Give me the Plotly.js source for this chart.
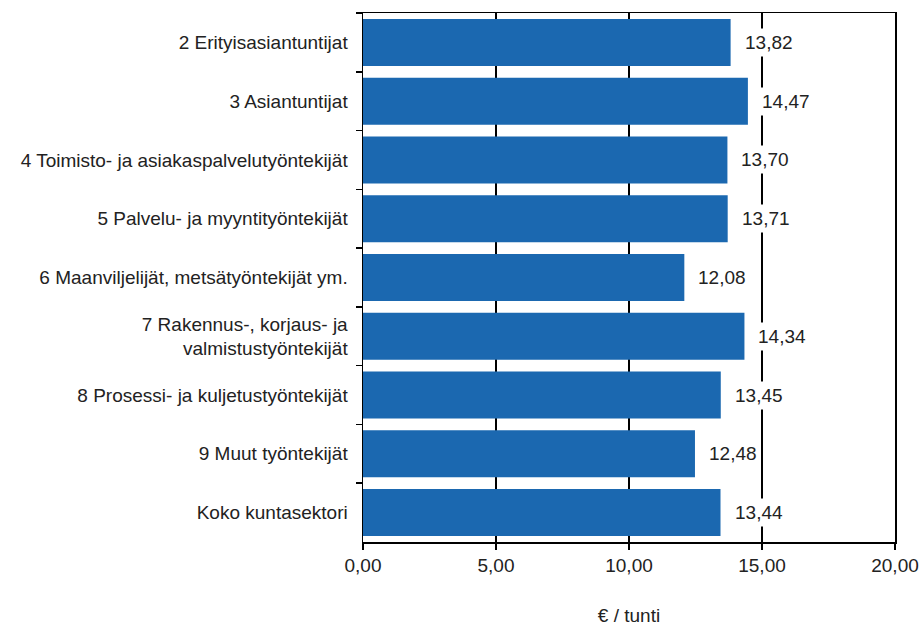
<!DOCTYPE html>
<html>
<head>
<meta charset="utf-8">
<script src="https://cdn.plot.ly/plotly-3.0.1.min.js"></script>
<style>html,body{margin:0;padding:0;background:#fff}#chart{width:921px;height:626px}</style>
</head>
<body>
<div id="chart"></div>
<script>
const categories = [
  "2 Erityisasiantuntijat",
  "3 Asiantuntijat",
  "4 Toimisto- ja asiakaspalvelutyöntekijät",
  "5 Palvelu- ja myyntityöntekijät",
  "6 Maanviljelijät, metsätyöntekijät ym.",
  "7 Rakennus-, korjaus- ja<br>valmistustyöntekijät",
  "8 Prosessi- ja kuljetustyöntekijät",
  "9 Muut työntekijät",
  "Koko kuntasektori"
];
const values = [13.82, 14.47, 13.70, 13.71, 12.08, 14.34, 13.45, 12.48, 13.44];
const xTickVals = [0, 5, 10, 15, 20];
const xTickText = ["0,00", "5,00", "10,00", "15,00", "20,00"];
const xTitle = "€ / tunti";

const fontFamily = '"Liberation Sans", Arial, sans-serif';
const textColor = "#222";

const fmt = v => v.toFixed(2).replace(".", ",");

const annotations = values.map((v, i) => ({
  x: v, y: categories[i], xref: "x", yref: "y",
  text: fmt(v), showarrow: false,
  xanchor: "left", yanchor: "middle", xshift: 10,
  bgcolor: "#ffffff", borderpad: 3, borderwidth: 1, bordercolor: "rgba(0,0,0,0)",
  font: {family: fontFamily, size: 19, color: textColor}
}));

const trace = {
  type: "bar", orientation: "h",
  x: values, y: categories,
  marker: {color: "#1B68B0"},
  hoverinfo: "x+y"
};

const layout = {
  width: 921, height: 626,
  margin: {l: 363, r: 26, t: 13, b: 84},
  paper_bgcolor: "#fff", plot_bgcolor: "#fff",
  showlegend: false,
  bargap: 0.2,
  font: {family: fontFamily, size: 19, color: textColor},
  xaxis: {
    range: [0, 20], tickvals: xTickVals, ticktext: xTickText,
    showgrid: true, gridcolor: "#000", gridwidth: 1.5,
    showline: true, linecolor: "#000", linewidth: 1.5, mirror: true,
    ticks: "outside", ticklen: 6, tickcolor: "#000", tickwidth: 1.5,
    zeroline: false, fixedrange: true,
    tickfont: {family: fontFamily, size: 19, color: textColor},
    title: {text: xTitle, font: {family: fontFamily, size: 19, color: textColor}, standoff: 35}
  },
  yaxis: {
    type: "category", autorange: "reversed",
    showgrid: false, zeroline: false,
    showline: true, linecolor: "#000", linewidth: 1.5, mirror: true,
    ticks: "outside", tickson: "boundaries", ticklen: 6, tickcolor: "#000", tickwidth: 1.5,
    ticklabelstandoff: 10,
    tickfont: {family: fontFamily, size: 19, color: textColor},
    fixedrange: true
  },
  annotations: annotations
};

Plotly.newPlot("chart", [trace], layout, {displayModeBar: false, staticPlot: true});
</script>
</body>
</html>
